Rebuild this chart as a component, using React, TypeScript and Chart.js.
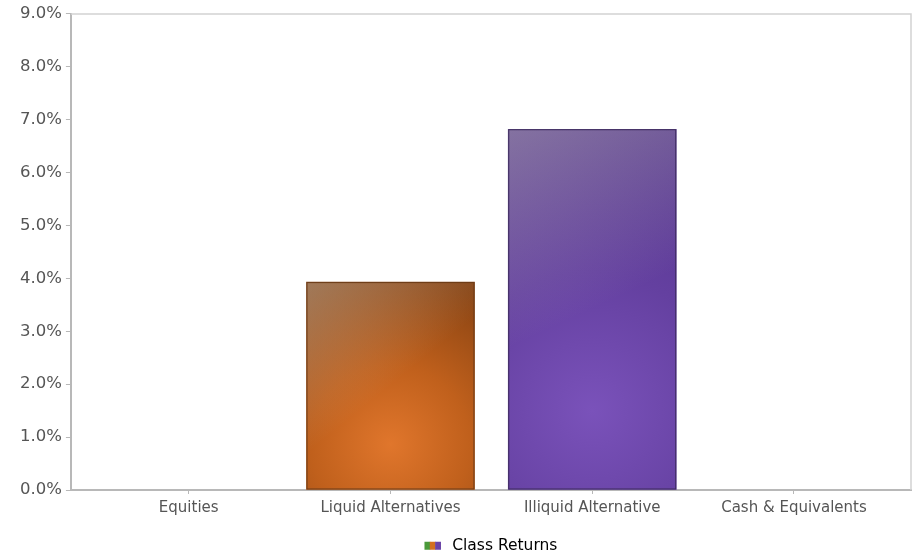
import React, { useEffect, useRef } from 'react';
import { Chart, registerables } from 'chart.js';

Chart.register(...registerables);

const categories = ['Equities', 'Liquid Alternatives', 'Illiquid Alternative', 'Cash & Equivalents'];
const classReturns: (number | null)[] = [null, 3.93, 6.82, null];
const yTickValues = [0, 1, 2, 3, 4, 5, 6, 7, 8, 9];
const seriesLabel = 'Class Returns';

const barStyles: Record<number, { center: string; mid: string; outer: string; border: string }> = {
  1: { center: '#e0762c', mid: '#c0601c', outer: '#864212', border: '#6a3a16' },
  2: { center: '#7a52ba', mid: '#6440a0', outer: '#52338a', border: '#3c2b5c' },
};

const FONT = '"DejaVu Sans", Verdana, sans-serif';

function barFill(ctx: any) {
  const chart = ctx.chart;
  const i = ctx.dataIndex;
  const v = classReturns[i];
  const st = barStyles[i];
  if (!st || v == null || !chart.chartArea) return 'rgba(0,0,0,0)';
  const xs = chart.scales.x;
  const ys = chart.scales.y;
  if (!xs || !ys) return st.mid;
  const cx = xs.getPixelForValue(i);
  const top = ys.getPixelForValue(v);
  const bottom = ys.getPixelForValue(0);
  if (![cx, top, bottom].every(Number.isFinite)) return st.mid;
  const h = bottom - top;
  const cy = bottom - h * 0.22;
  const g = chart.ctx.createRadialGradient(cx, cy, 0, cx, cy, Math.max(h * 0.85, 120));
  g.addColorStop(0, st.center);
  g.addColorStop(0.45, st.mid);
  g.addColorStop(1, st.outer);
  return g;
}

const framePlugin = {
  id: 'frame',
  beforeDatasetsDraw(chart: any) {
    const { ctx, chartArea } = chart;
    ctx.save();
    ctx.strokeStyle = '#d2d2d2';
    ctx.lineWidth = 1.5;
    ctx.beginPath();
    ctx.moveTo(chartArea.left, chartArea.top);
    ctx.lineTo(chartArea.right, chartArea.top);
    ctx.lineTo(chartArea.right, chartArea.bottom);
    ctx.stroke();
    ctx.restore();
  },
  afterDatasetsDraw(chart: any) {
    const { ctx } = chart;
    const meta = chart.getDatasetMeta(0);
    meta.data.forEach((el: any, i: number) => {
      const v = classReturns[i];
      const st = barStyles[i];
      if (v == null || !st) return;
      const { x, y, base, width } = el.getProps(['x', 'y', 'base', 'width'], true);
      const left = x - width / 2;
      const h = base - y;
      ctx.save();
      const g = ctx.createLinearGradient(left, y, left + width * 0.5, y + h * 0.5);
      g.addColorStop(0, 'rgba(200,200,190,0.42)');
      g.addColorStop(1, 'rgba(200,200,190,0)');
      ctx.fillStyle = g;
      ctx.fillRect(left, y, width, h);
      ctx.strokeStyle = st.border;
      ctx.lineWidth = 1;
      ctx.strokeRect(left + 0.5, y + 0.5, width - 1, h - 1);
      ctx.restore();
    });
  },
  afterDraw(chart: any) {
    const lg = chart.legend;
    if (!lg || !lg.legendHitBoxes || !lg.legendHitBoxes.length) return;
    const hb = lg.legendHitBoxes[0];
    const { ctx } = chart;
    const bw = 16, bh = 8;
    const bx = hb.left;
    const by = hb.top + (hb.height - bh) / 2;
    ctx.save();
    const cols = ['#4a9a3a', '#d2701f', '#6a43a6'];
    cols.forEach((c, k) => {
      ctx.fillStyle = c;
      ctx.fillRect(bx + (k * bw) / 3, by, bw / 3 + 0.5, bh);
    });
    ctx.restore();
  },
};

export default function App() {
  const ref = useRef<HTMLCanvasElement | null>(null);

  useEffect(() => {
    if (!ref.current) return;
    const chart = new Chart(ref.current, {
      type: 'bar',
      data: {
        datasets: [
          {
            label: seriesLabel,
            data: categories.map((_, i) => ({ x: i, y: classReturns[i] as any })),
            backgroundColor: barFill as any,
            borderWidth: 0,
            barThickness: 168,
          },
        ],
      },
      plugins: [framePlugin],
      options: {
        animation: false,
        responsive: false,
        maintainAspectRatio: false,
        layout: { padding: { top: 5, right: 6, left: 16, bottom: 0 } },
        scales: {
          x: {
            type: 'linear',
            min: -0.584,
            max: 3.58,
            offset: false,
            grid: {
              display: true,
              offset: false,
              drawOnChartArea: false,
              drawTicks: true,
              tickLength: 4,
              color: '#b8b8b8',
            },
            border: { display: true, color: '#b8b8b8', width: 2 },
            afterBuildTicks: (scale: any) => {
              scale.ticks = categories.map((_, i) => ({ value: i }));
            },
            afterFit: (scale: any) => {
              scale.height += 12;
            },
            ticks: {
              autoSkip: false,
              maxRotation: 0,
              padding: 5,
              color: '#555555',
              font: { family: FONT, size: 15 },
              callback: (v: any) => categories[Number(v)] ?? '',
            },
          },
          y: {
            min: 0,
            max: 9,
            afterBuildTicks: (scale: any) => {
              scale.ticks = yTickValues.map((v) => ({ value: v }));
            },
            grid: {
              display: true,
              drawOnChartArea: false,
              drawTicks: true,
              tickLength: 5,
              color: '#b8b8b8',
            },
            border: { display: true, color: '#b8b8b8', width: 2 },
            ticks: {
              padding: 4,
              color: '#555555',
              font: { family: FONT, size: 16.5 },
              callback: (v: any) => Number(v).toFixed(1) + '%',
            },
          },
        },
        plugins: {
          tooltip: { enabled: false },
          legend: {
            display: true,
            position: 'bottom',
            fullSize: false,
            maxHeight: 22,
            labels: {
              boxWidth: 20,
              boxHeight: 8,
              padding: 4,
              color: '#333333',
              font: { family: FONT, size: 15.5 },
              generateLabels: () => [
                {
                  text: seriesLabel,
                  fillStyle: 'rgba(0,0,0,0)',
                  strokeStyle: 'rgba(0,0,0,0)',
                  lineWidth: 0,
                  hidden: false,
                  datasetIndex: 0,
                } as any,
              ],
            },
          },
        },
      },
    });
    return () => chart.destroy();
  }, []);

  return (
    <div style={{ position: 'fixed', left: 0, top: 0, width: 917, height: 556, background: '#ffffff' }}>
      <canvas ref={ref} width={917} height={556} style={{ width: 917, height: 556, display: 'block' }} />
    </div>
  );
}
